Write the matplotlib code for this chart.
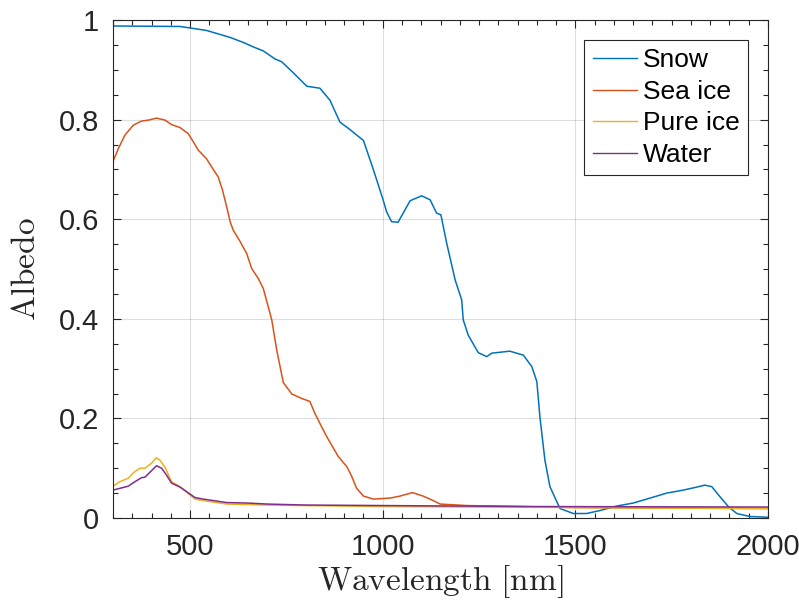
import numpy as np
import matplotlib
matplotlib.use('Agg')
import matplotlib.pyplot as plt

snow_wl = [300, 474, 500, 543, 604, 638, 664, 690, 720, 738, 768, 803, 837, 863, 889, 915, 950, 976,
           1001, 1010, 1023, 1040, 1071, 1101, 1123, 1140, 1151, 1166, 1188, 1205, 1209, 1222, 1248, 1270,
           1283, 1330, 1365, 1387, 1400, 1408, 1421, 1434, 1460, 1495, 1529, 1564, 1607, 1650, 1694,
           1737, 1780, 1815, 1836, 1854, 1875, 1897, 1919, 1953, 2000]
snow = [0.988, 0.987, 0.984, 0.979, 0.965, 0.955, 0.946, 0.938, 0.922, 0.916, 0.894, 0.867, 0.863, 0.839,
        0.795, 0.780, 0.758, 0.699, 0.639, 0.615, 0.595, 0.594, 0.637, 0.647, 0.639, 0.612, 0.609, 0.552,
        0.478, 0.438, 0.398, 0.367, 0.332, 0.324, 0.331, 0.335, 0.327, 0.304, 0.274, 0.203, 0.116, 0.063,
        0.019, 0.009, 0.009, 0.015, 0.024, 0.030, 0.040, 0.050, 0.056, 0.062, 0.066, 0.063, 0.043, 0.023,
        0.009, 0.003, 0.0015]

seaice_wl = [300, 314, 331, 353, 374, 392, 413, 435, 452, 474, 495, 508, 521, 543, 560, 573, 584, 595,
             604, 612, 630, 647, 660, 677, 690, 703, 712, 725, 742, 764, 790, 811, 824, 837, 855, 885,
             907, 920, 932, 950, 976, 1019, 1045, 1077, 1105, 1131, 1149, 1218, 1500, 2000]
seaice = [0.716, 0.742, 0.769, 0.789, 0.797, 0.799, 0.803, 0.799, 0.790, 0.784, 0.772, 0.756, 0.739,
          0.721, 0.700, 0.685, 0.659, 0.625, 0.595, 0.578, 0.555, 0.531, 0.501, 0.481, 0.461, 0.424,
          0.398, 0.337, 0.272, 0.249, 0.240, 0.234, 0.210, 0.190, 0.163, 0.123, 0.103, 0.083, 0.060,
          0.044, 0.038, 0.040, 0.044, 0.051, 0.044, 0.035, 0.028, 0.025, 0.021, 0.019]

pureice_wl = [300, 318, 340, 353, 370, 383, 400, 412, 422, 435, 452, 474, 513, 534, 595, 700, 800, 1000,
              1500, 2000]
pureice = [0.064, 0.073, 0.080, 0.091, 0.100, 0.100, 0.110, 0.121, 0.116, 0.102, 0.073, 0.063, 0.038,
           0.035, 0.028, 0.026, 0.025, 0.023, 0.021, 0.019]

water_wl = [300, 340, 353, 374, 383, 400, 413, 426, 439, 452, 474, 513, 534, 595, 650, 700, 800, 1000,
            1400, 2000]
water = [0.056, 0.064, 0.071, 0.081, 0.082, 0.095, 0.105, 0.100, 0.086, 0.070, 0.062, 0.041, 0.038,
         0.031, 0.030, 0.028, 0.026, 0.025, 0.023, 0.022]

labels = ['Snow', 'Sea ice', 'Pure ice', 'Water']
colors = ['#0072BD', '#D95319', '#EDB120', '#7E2F8E']

plt.rcParams['font.family'] = ['Liberation Sans', 'DejaVu Sans']
plt.rcParams['mathtext.fontset'] = 'cm'

fig = plt.figure(figsize=(7.99, 6.02), dpi=100)
ax = fig.add_axes([113/799, 84/602, 655/799, 498/602])

lines = []
for wl, val, col in zip([snow_wl, seaice_wl, pureice_wl, water_wl],
                        [snow, seaice, pureice, water], colors):
    l, = ax.plot(wl, val, color=col, linewidth=1.1)
    lines.append(l)

ax.set_xlim(300, 2000)
ax.set_ylim(0, 1)
ax.set_xticks([500, 1000, 1500, 2000])
ax.set_yticks([0, 0.2, 0.4, 0.6, 0.8, 1])
ax.set_yticklabels(['0', '0.2', '0.4', '0.6', '0.8', '1'])
ax.set_xticks(np.arange(300, 2001, 50), minor=True)
ax.set_yticks(np.arange(0, 1.001, 0.05), minor=True)

ax.grid(True, which='major', color='#262626', alpha=0.15, linewidth=0.8)
ax.set_axisbelow(True)
ax.tick_params(which='both', direction='in', top=True, right=True, colors='#262626',
               labelsize=21, width=0.8)
ax.tick_params(which='major', length=6)
ax.tick_params(which='minor', length=3.5)
ax.tick_params(axis='x', pad=11)
ax.tick_params(axis='y', pad=10)
for s in ax.spines.values():
    s.set_color('#262626')
    s.set_linewidth(0.8)

ax.set_xlabel(r'$\mathrm{Wavelength\ [nm]}$', fontsize=24, color='#262626', labelpad=1)
ax.set_ylabel(r'$\mathrm{Albedo}$', fontsize=24, color='#262626', labelpad=12)

leg = ax.legend(lines, labels, loc='upper right', bbox_to_anchor=(0.969, 0.960), fontsize=19,
                frameon=True, fancybox=False, edgecolor='#262626', framealpha=1,
                handlelength=1.7, handletextpad=0.2, labelspacing=0.29, borderpad=0.31,
                borderaxespad=0)
leg.get_frame().set_linewidth(0.8)
for h in leg.get_lines():
    h.set_linewidth(1.0)

fig.savefig('out.png', dpi=100)
